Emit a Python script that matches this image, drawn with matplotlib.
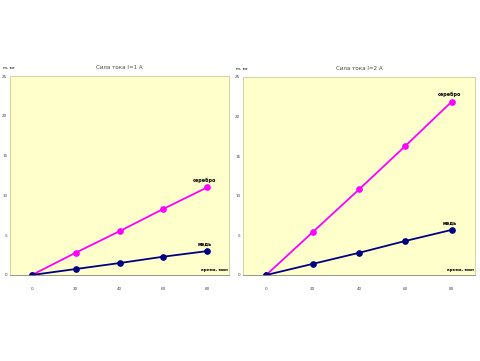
import matplotlib.pyplot as plt

# time, min
t = [0, 20, 40, 60, 80]

# left panel
silver_1 = [0, 2.8, 5.5, 8.3, 11.0]
copper_1 = [0, 0.75, 1.5, 2.3, 3.0]
# right panel
silver_2 = [0, 5.4, 10.8, 16.3, 21.9]
copper_2 = [0, 1.4, 2.8, 4.3, 5.7]

titles = ["Сила тока I=1 А", "Сила тока I=2 А"]
yticks = [0, 5, 10, 15, 20, 25]

fig = plt.figure(figsize=(4.81, 3.61), dpi=100)
ax1 = fig.add_axes([10/481, 1 - 275/361, 219/481, 199/361])
ax2 = fig.add_axes([243/481, 1 - 275/361, 232/481, 198/361])

for ax, s, c, title in [(ax1, silver_1, copper_1, titles[0]),
                        (ax2, silver_2, copper_2, titles[1])]:
    ax.set_facecolor('#FFFFCC')
    ax.plot(t, s, color='#FF00FF', lw=1.3, marker='o', ms=3.8)
    ax.plot(t, c, color='#000080', lw=1.3, marker='o', ms=3.8)
    ax.set_xlim(-10, 90)
    ax.set_ylim(0, 25)
    ax.set_xticks(t)
    ax.set_yticks(yticks)
    ax.tick_params(labelsize=3, length=0, colors='#444444')
    ax.tick_params(axis='y', pad=2)
    ax.tick_params(axis='x', pad=9)
    for sp in ax.spines.values():
        sp.set_color('#CCCC99')
        sp.set_linewidth(0.6)
    ax.spines['bottom'].set_color('#888877')
    ax.set_title(title, fontsize=4, pad=5, color='#444444')
    ax.text(-0.03, 1.035, 'm, мг', transform=ax.transAxes, fontsize=3)
    ax.text(t[-1] - 1, s[-1] + 0.6, 'серебро', fontsize=3.5, fontweight='bold',
            ha='center', va='bottom')
    ax.text(t[-1] - 1, c[-1] + 0.6, 'медь', fontsize=3.5, fontweight='bold',
            ha='center', va='bottom')
    ax.text(89.5, 0.4, 'время, мин', fontsize=3, fontweight='bold',
            ha='right', va='bottom')

fig.savefig('out.png', dpi=100)
